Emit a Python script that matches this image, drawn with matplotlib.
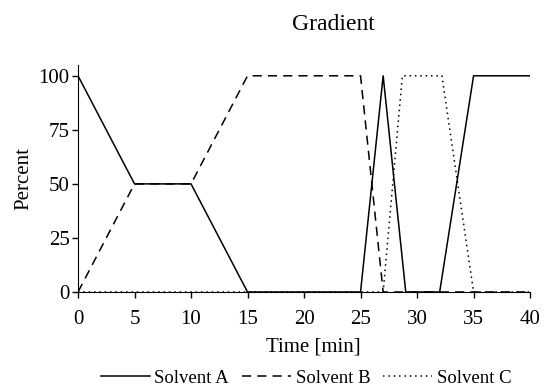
import matplotlib.pyplot as plt

plt.rcParams["font.family"] = ["Liberation Serif", "DejaVu Serif"]

time_a = [0, 5, 10, 15, 25, 27, 29, 32, 35, 40]
solvent_a = [100, 50, 50, 0, 0, 100, 0, 0, 100, 100]

time_b = [0, 5, 10, 15, 25, 27, 40]
solvent_b = [0, 50, 50, 100, 100, 0, 0]

time_c = [0, 27, 28.7, 32.2, 35, 40]
solvent_c = [0, 0, 100, 100, 0, 0]

x_ticks = [0, 5, 10, 15, 20, 25, 30, 35, 40]
y_ticks = [0, 25, 50, 75, 100]


def main():
    fig = plt.figure(figsize=(5.44, 3.91), dpi=100)
    ax = fig.add_axes([0.1434, 0.2532, 0.831, 0.5806])

    ax.plot(time_a, solvent_a, color="black", lw=1.1, ls="-", label="Solvent A")
    ax.plot(time_b, solvent_b, color="black", lw=1.1, ls=(0, (6, 4)), label="Solvent B")
    ax.plot(time_c, solvent_c, color="black", lw=1.1, ls=(0, (1, 2.5)), label="Solvent C")

    ax.set_xlim(0, 40)
    ax.set_ylim(0, 105)
    ax.set_xticks(x_ticks)
    ax.set_yticks(y_ticks)
    ax.spines["top"].set_visible(False)
    ax.spines["right"].set_visible(False)
    ax.tick_params(labelsize=15, direction="out", length=4, width=1)
    ax.tick_params(axis="x", pad=9)
    ax.tick_params(axis="y", pad=2)

    ax.set_xlabel("Time [min]", fontsize=15, labelpad=7)
    ax.xaxis.set_label_coords(0.52, -0.2)
    ax.set_ylabel("Percent", fontsize=15, labelpad=4)
    fig.text(0.612, 0.938, "Gradient", fontsize=17, ha="center", va="center")

    fig.legend(
        loc="center",
        bbox_to_anchor=(0.563, 0.033),
        ncol=3,
        frameon=False,
        fontsize=13.5,
        handlelength=2.6,
        handletextpad=0.25,
        columnspacing=0.7,
    )

    fig.savefig("out.png", dpi=100)
    plt.close(fig)


if __name__ == "__main__":
    main()
